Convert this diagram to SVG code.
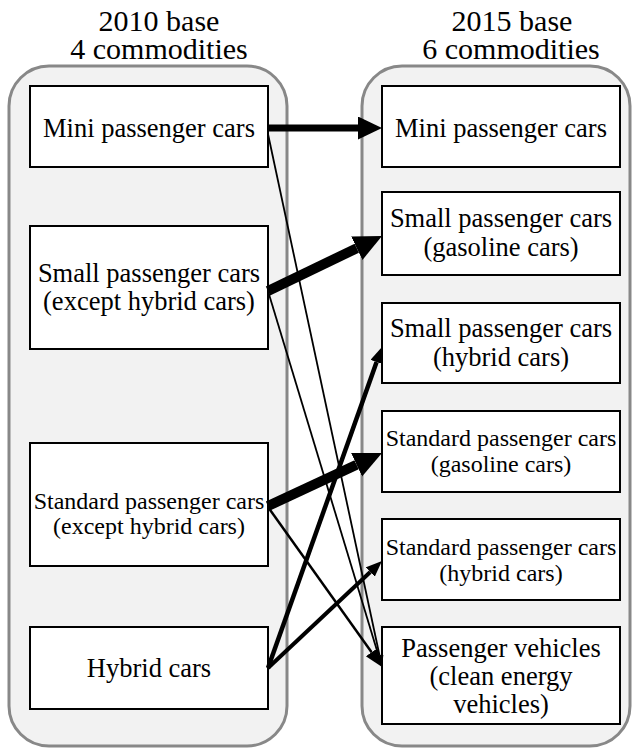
<svg xmlns="http://www.w3.org/2000/svg" width="633" height="749" viewBox="0 0 633 749" font-family="'Liberation Serif', 'Times New Roman', 'DejaVu Serif', serif">
<style>
.cont{fill:#f2f2f2;stroke:#888888;stroke-width:3}
.box{fill:#ffffff;stroke:#000000;stroke-width:2}
.title{font-size:30px}
.t{font-size:26.5px}
.ts{font-size:24px}
.c{fill:none;stroke:#000;stroke-linecap:butt}
</style>
<defs>
<marker id="hXL" markerUnits="userSpaceOnUse" markerWidth="30" markerHeight="28" refX="0" refY="13" orient="auto"><path d="M0,0 L28,13 L0,26 Z" fill="#000"/></marker>
<marker id="hL" markerUnits="userSpaceOnUse" markerWidth="26" markerHeight="25" refX="0" refY="11.5" orient="auto"><path d="M0,0 L24,11.5 L0,23 Z" fill="#000"/></marker>
<marker id="hM" markerUnits="userSpaceOnUse" markerWidth="20" markerHeight="16" refX="0" refY="7" orient="auto"><path d="M0,0 L18,7 L0,14 Z" fill="#000"/></marker>
<marker id="hS" markerUnits="userSpaceOnUse" markerWidth="18" markerHeight="15" refX="0" refY="6.5" orient="auto"><path d="M0,0 L16,6.5 L0,13 Z" fill="#000"/></marker>
<marker id="hXS" markerUnits="userSpaceOnUse" markerWidth="14" markerHeight="10" refX="0" refY="4" orient="auto"><path d="M0,0 L12,4 L0,8 Z" fill="#000"/></marker>
</defs>
<g id="titles" font-family="'Liberation Serif', 'Times New Roman', 'DejaVu Serif', serif" text-anchor="middle" fill="#000">
<text class="title" x="159" y="31">2010 base</text>
<text class="title" x="159" y="59">4 commodities</text>
<text class="title" x="512" y="31">2015 base</text>
<text class="title" x="511" y="59">6 commodities</text>
</g>
<g id="group2010"><rect class="cont" x="9" y="66" width="278" height="680" rx="40" ry="40"/></g>
<g id="group2015"><rect class="cont" x="362" y="66" width="268" height="680" rx="40" ry="40"/></g>
<g font-family="'Liberation Serif', 'Times New Roman', 'DejaVu Serif', serif" text-anchor="middle" fill="#000">
<g id="L_mini"><rect class="box" x="30" y="86" width="238" height="81"/><text class="t" x="149" y="136.5">Mini passenger cars</text></g>
<g id="L_small"><rect class="box" x="30" y="226" width="238" height="123"/><text class="t" x="149" y="282">Small passenger cars</text><text class="t" x="149" y="310">(except hybrid cars)</text></g>
<g id="L_standard"><rect class="box" x="30" y="443" width="238" height="123"/><text class="ts" x="149" y="509">Standard passenger cars</text><text class="ts" x="149" y="534">(except hybrid cars)</text></g>
<g id="L_hybrid"><rect class="box" x="30" y="627" width="238" height="82"/><text class="t" x="149" y="677">Hybrid cars</text></g>
<g id="R_mini"><rect class="box" x="382" y="86" width="238" height="81"/><text class="t" x="501" y="137">Mini passenger cars</text></g>
<g id="R_small_gas"><rect class="box" x="382" y="192" width="238" height="83"/><text class="t" x="501" y="227">Small passenger cars</text><text class="t" x="501" y="256">(gasoline cars)</text></g>
<g id="R_small_hyb"><rect class="box" x="382" y="303" width="238" height="80"/><text class="t" x="501" y="337">Small passenger cars</text><text class="t" x="501" y="366">(hybrid cars)</text></g>
<g id="R_std_gas"><rect class="box" x="382" y="411" width="238" height="81"/><text class="ts" x="501" y="446">Standard passenger cars</text><text class="ts" x="501" y="472">(gasoline cars)</text></g>
<g id="R_std_hyb"><rect class="box" x="382" y="519" width="238" height="81"/><text class="ts" x="501" y="555">Standard passenger cars</text><text class="ts" x="501" y="581">(hybrid cars)</text></g>
<g id="R_passenger"><rect class="box" x="382" y="627" width="238" height="97"/><text class="t" x="501" y="657">Passenger vehicles</text><text class="t" x="501" y="685">(clean energy</text><text class="t" x="501" y="713">vehicles)</text></g>
</g>
<g id="connectors">
<path class="c" d="M268,134 L379.5,655.3" stroke-width="1.8" marker-end="url(#hXS)"/>
<path class="c" d="M268,291 L378.5,655.5" stroke-width="1.8" marker-end="url(#hXS)"/>
<path class="c" d="M268,507 L371.6,652.3" stroke-width="2.5" marker-end="url(#hM)"/>
<path class="c" d="M268,668 L376.6,362.1" stroke-width="4.5" marker-end="url(#hS)"/>
<path class="c" d="M268,668 L370.3,572" stroke-width="4" marker-end="url(#hS)"/>
<path class="c" d="M268,128 L358,128" stroke-width="7" marker-end="url(#hL)"/>
<path class="c" d="M268,291 L356.8,248.2" stroke-width="10" marker-end="url(#hXL)"/>
<path class="c" d="M268,506 L356.6,464.8" stroke-width="10" marker-end="url(#hXL)"/>
</g>
</svg>
